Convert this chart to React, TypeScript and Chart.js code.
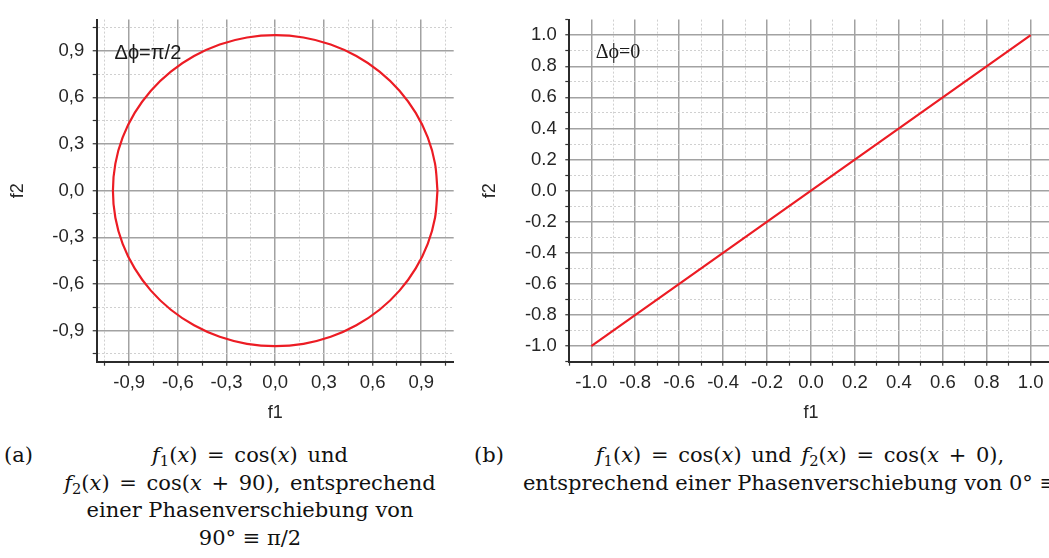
import React, { useEffect, useRef } from "react";
import { Chart, registerables } from "chart.js";

Chart.register(...registerables);

// (a) f1 = cos(x), f2 = cos(x + 90°), sampled every 10° over one period
const F1_A = [
  1, 0.985, 0.94, 0.866, 0.766, 0.643, 0.5, 0.342, 0.174, 0,
  -0.174, -0.342, -0.5, -0.643, -0.766, -0.866, -0.94, -0.985, -1,
  -0.985, -0.94, -0.866, -0.766, -0.643, -0.5, -0.342, -0.174, 0,
  0.174, 0.342, 0.5, 0.643, 0.766, 0.866, 0.94, 0.985, 1,
];
const F2_A = [
  0, -0.174, -0.342, -0.5, -0.643, -0.766, -0.866, -0.94, -0.985, -1,
  -0.985, -0.94, -0.866, -0.766, -0.643, -0.5, -0.342, -0.174, 0,
  0.174, 0.342, 0.5, 0.643, 0.766, 0.866, 0.94, 0.985, 1,
  0.985, 0.94, 0.866, 0.766, 0.643, 0.5, 0.342, 0.174, 0,
];

// (b) f1 = cos(x), f2 = cos(x + 0)
const F1_B = [-1, -0.5, 0, 0.5, 1];
const F2_B = [-1, -0.5, 0, 0.5, 1];

// Tick positions (major + minor) and labels for the major ticks
const TICKS_A = [-1.05, -0.9, -0.75, -0.6, -0.45, -0.3, -0.15, 0, 0.15, 0.3, 0.45, 0.6, 0.75, 0.9, 1.05];
const MAJOR_A = [-0.9, -0.6, -0.3, 0, 0.3, 0.6, 0.9];
const LABELS_A = ["-0,9", "-0,6", "-0,3", "0,0", "0,3", "0,6", "0,9"];

const TICKS_B = [
  -1.1, -1.0, -0.9, -0.8, -0.7, -0.6, -0.5, -0.4, -0.3, -0.2, -0.1, 0,
  0.1, 0.2, 0.3, 0.4, 0.5, 0.6, 0.7, 0.8, 0.9, 1.0, 1.1,
];
const MAJOR_B = [-1, -0.8, -0.6, -0.4, -0.2, 0, 0.2, 0.4, 0.6, 0.8, 1];
const LABELS_B = ["-1.0", "-0.8", "-0.6", "-0.4", "-0.2", "0.0", "0.2", "0.4", "0.6", "0.8", "1.0"];

const AXIS_MIN = -1.1;
const AXIS_MAX = 1.1;

const SANS = "'Liberation Sans', Arial, sans-serif";
const SERIF = "'Liberation Serif', 'DejaVu Serif', serif";
const CAPTION_SERIF = "'DejaVu Serif', 'Liberation Serif', serif";

type Panel = {
  f1: number[];
  f2: number[];
  ticks: number[];
  major: number[];
  labels: string[];
  tension: number;
  note: string;
  noteFont: string;
  noteAt: [number, number];
  left: number;
  width: number;
  height: number;
  axisW: number;
  padRight: number;
  titlePad: number;
};

const PLOT_TOP = 6;
const PLOT_BOTTOM = 361.7;
const X_AXIS_H = 62.1;

const PANEL_A: Panel = {
  f1: F1_A,
  f2: F2_A,
  ticks: TICKS_A,
  major: MAJOR_A,
  labels: LABELS_A,
  tension: 0.33,
  note: "\u0394\u03d5=\u03c0/2",
  noteFont: `20px ${SANS}`,
  noteAt: [-0.99, 0.88],
  left: 0,
  width: 470,
  height: 430,
  axisW: 96.7,
  padRight: 16.3,
  titlePad: 7.5,
};

const PANEL_B: Panel = {
  f1: F1_B,
  f2: F2_B,
  ticks: TICKS_B,
  major: MAJOR_B,
  labels: LABELS_B,
  tension: 0,
  note: "\u0394\u03d5=0",
  noteFont: `20px ${SERIF}`,
  noteAt: [-0.98, 0.89],
  left: 470,
  width: 600,
  height: 430,
  axisW: 99.3,
  padRight: 17.3,
  titlePad: 9,
};

const near = (arr: number[], v: number) => arr.findIndex((m) => Math.abs(m - v) < 1e-6);

// Draws the phase-difference note inside the plot area
const notePlugin = {
  id: "phaseNote",
  afterDatasetsDraw(chart: any, _args: any, opts: any) {
    const { ctx, scales } = chart;
    ctx.save();
    ctx.font = opts.font;
    ctx.fillStyle = "#1a1a1a";
    ctx.textAlign = "left";
    ctx.textBaseline = "middle";
    ctx.fillText(opts.text, scales.x.getPixelForValue(opts.x), scales.y.getPixelForValue(opts.y));
    ctx.restore();
  },
};

function axisOptions(p: Panel, isX: boolean) {
  const isMajor = (v: number) => near(p.major, v) >= 0;
  const isEdge = (v: number) => Math.abs(Math.abs(v) - AXIS_MAX) < 1e-6;
  return {
    type: "linear",
    position: isX ? "bottom" : "left",
    min: AXIS_MIN,
    max: AXIS_MAX,
    afterBuildTicks: (s: any) => {
      s.ticks = p.ticks.map((v) => ({ value: v }));
    },
    afterFit: (s: any) => {
      if (isX) s.height = X_AXIS_H;
      else s.width = p.axisW;
    },
    ticks: {
      autoSkip: false,
      maxRotation: 0,
      minRotation: 0,
      padding: isX ? 6.4 : 8.5,
      color: "#262626",
      font: { family: SANS, size: 18.5 },
      callback: (v: any) => {
        const i = near(p.major, Number(v));
        return i >= 0 ? p.labels[i] : "";
      },
    },
    grid: {
      drawOnChartArea: true,
      drawTicks: true,
      tickLength: 4,
      color: (c: any) => {
        const v = c.tick?.value;
        if (v === undefined || isEdge(v)) return "rgba(0,0,0,0)";
        return isMajor(v) ? "#a2a2a2" : "#d0d0d0";
      },
      lineWidth: (c: any) => (c.tick && isMajor(c.tick.value) ? 1.5 : 1),
      tickColor: "#333333",
      tickWidth: 1.2,
    },
    border: {
      display: true,
      color: "#2b2b2b",
      width: 2,
      dash: (c: any) => (c.tick && !isMajor(c.tick.value) ? [2, 2] : []),
    },
    title: {
      display: true,
      text: isX ? "f1" : "f2",
      color: "#262626",
      font: { family: SANS, size: 18 },
      padding: isX ? { top: 0, bottom: 0 } : { top: p.titlePad, bottom: 0 },
    },
  };
}

function PhaseChart({ p }: { p: Panel }) {
  const ref = useRef<HTMLCanvasElement | null>(null);
  useEffect(() => {
    if (!ref.current) return;
    const chart = new Chart(ref.current, {
      type: "line",
      data: {
        datasets: [
          {
            data: p.f1.map((x, i) => ({ x, y: p.f2[i] })),
            borderColor: "#ec1c24",
            borderWidth: 2.2,
            pointRadius: 0,
            tension: p.tension,
            fill: false,
          },
        ],
      },
      options: {
        responsive: false,
        animation: false,
        devicePixelRatio: 1,
        layout: {
          padding: {
            top: PLOT_TOP,
            left: 0,
            right: p.padRight,
            bottom: p.height - PLOT_BOTTOM - X_AXIS_H,
          },
        },
        scales: {
          x: axisOptions(p, true) as any,
          y: axisOptions(p, false) as any,
        },
        plugins: {
          legend: { display: false },
          tooltip: { enabled: false },
          phaseNote: { text: p.note, font: p.noteFont, x: p.noteAt[0], y: p.noteAt[1] },
        } as any,
      },
      plugins: [notePlugin],
    });
    return () => chart.destroy();
  }, [p]);
  return (
    <canvas
      ref={ref}
      width={p.width}
      height={p.height}
      style={{ position: "absolute", left: p.left, top: 0, width: p.width, height: p.height }}
    />
  );
}

const subStyle: React.CSSProperties = { fontSize: "0.7em", verticalAlign: "-0.3em", lineHeight: 0 };
const F = ({ n }: { n: number }) => (
  <>
    <i>f</i>
    <sub style={subStyle}>{n}</sub>(<i>x</i>)
  </>
);

// Math lines get wider spaces around relations and operators
const mathLine: React.CSSProperties = { wordSpacing: "3px" };

const capText: React.CSSProperties = {
  position: "absolute",
  top: 442,
  fontFamily: CAPTION_SERIF,
  fontSize: 21,
  lineHeight: "27.5px",
  color: "#111",
  whiteSpace: "nowrap",
};

export default function App() {
  return (
    <div
      style={{
        position: "fixed",
        left: 0,
        top: 0,
        width: 1049,
        height: 558,
        overflow: "hidden",
        background: "#fff",
      }}
    >
      <PhaseChart p={PANEL_A} />
      <PhaseChart p={PANEL_B} />

      <div style={{ ...capText, left: 4 }}>(a)</div>
      <div style={{ ...capText, left: 50, width: 400, textAlign: "center" }}>
        <div style={mathLine}>
          <F n={1} /> = cos(<i>x</i>) und
        </div>
        <div style={mathLine}>
          <F n={2} /> = cos(<i>x</i> + 90), entsprechend
        </div>
        <div>einer Phasenverschiebung von</div>
        <div>90° ≡ π/2</div>
      </div>

      <div style={{ ...capText, left: 474 }}>(b)</div>
      <div style={{ ...capText, left: 500, width: 600, textAlign: "center" }}>
        <div style={mathLine}>
          <F n={1} /> = cos(<i>x</i>) und <F n={2} /> = cos(<i>x</i> + 0),
        </div>
        <div>entsprechend einer Phasenverschiebung von 0° ≡ 0</div>
      </div>
    </div>
  );
}
